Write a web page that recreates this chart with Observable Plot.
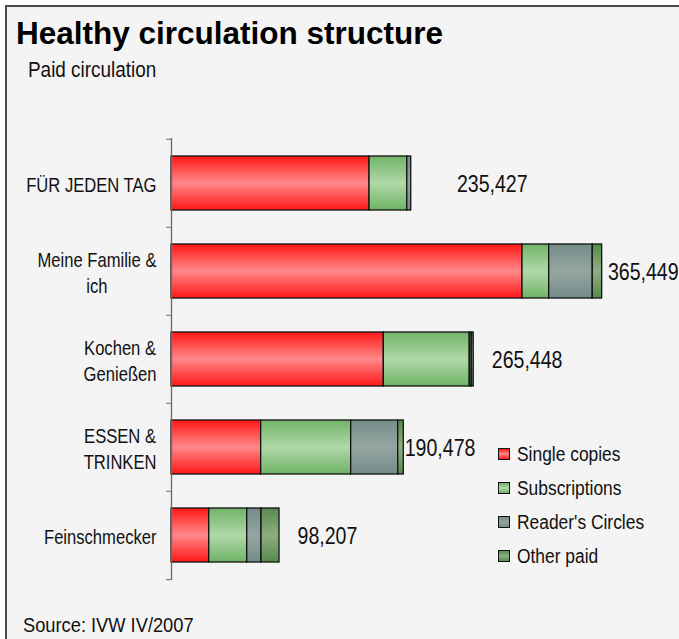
<!DOCTYPE html>
<html>
<head>
<meta charset="utf-8">
<script src="https://cdn.jsdelivr.net/npm/d3@7"></script>
<script src="https://cdn.jsdelivr.net/npm/@observablehq/plot@0.6"></script>
<style>
  html, body { margin: 0; padding: 0; background: #ffffff; overflow: hidden; }
  #page { position: relative; width: 679px; height: 639px; overflow: hidden; }
  #frame { position: absolute; left: 5px; top: 5px; width: 672px; height: 632px;
           border-left: 2px solid #4a4a4a; border-top: 2px solid #4a4a4a; border-right: none; border-bottom: none; background: #f4f4f4; }
  .narrow { font-family: "Liberation Sans", Arial, sans-serif; color: #111; }
  .sq { display: inline-block; transform-origin: 0 50%; white-space: nowrap; }
  #title { position: absolute; left: 16px; top: 18px; font: bold 31.5px/1 "Liberation Sans", Arial, sans-serif; color: #000; white-space: nowrap; }
  #subtitle { position: absolute; left: 28px; top: 59px; font-size: 22px; line-height: 1; }
  #subtitle .sq { transform: scaleX(0.86); }
  #source { position: absolute; left: 23px; top: 614px; font-size: 21px; line-height: 1; }
  #source .sq { transform: scaleX(0.87); }
  #chart { position: absolute; left: 0; top: 100px; }
  .leg { position: absolute; left: 498px; height: 22px; display: flex; align-items: center; white-space: nowrap; font-size: 20px; line-height: 1; }
  .leg .sq { transform: scaleX(0.87); }
  .sw { width: 10px; height: 10px; border: 1px solid #111; margin-right: 7px; flex: none; }
</style>
</head>
<body>
<div id="page">
  <div id="frame"></div>
  <div id="title">Healthy circulation structure</div>
  <div id="subtitle" class="narrow"><span class="sq">Paid circulation</span></div>
  <div id="chart"></div>
  <div id="legend"></div>
  <div id="source" class="narrow"><span class="sq">Source: IVW IV/2007</span></div>
</div>
<script>
// ---- data ----
const categories = ["FÜR JEDEN TAG", "Meine Familie &\nich", "Kochen &\nGenießen", "ESSEN &\nTRINKEN", "Feinschmecker"];
const series = ["Single copies", "Subscriptions", "Reader's Circles", "Other paid"];
const singleCopies   = [170500, 302200, 182800, 77200, 32500];
const subscriptions  = [32500, 23000, 74000, 77500, 32700];
const readersCircles = [3400, 37500, 1700, 40500, 12300];
const otherPaid      = [0, 8100, 1700, 4800, 15500];
const totals = [235427, 365449, 265448, 190478, 98207];

const seriesValues = [singleCopies, subscriptions, readersCircles, otherPaid];
const gradIds = ["g-red", "g-green", "g-gray", "g-dark"];
const gradStops = [
  ["#ff1818", "#ff8888"],
  ["#6fb466", "#b1d8a8"],
  ["#748c88", "#95a6a2"],
  ["#578a4c", "#8dae83"]
];

const table = [];
categories.forEach((c, i) => {
  series.forEach((s, j) => {
    const v = seriesValues[j][i];
    if (v > 0) table.push({cat: c, series: s, value: v});
  });
});
const labels = categories.map((c, i) => ({cat: c, total: totals[i], text: d3.format(",")(totals[i])}));

const W = 679, H = 500, MT = 38, MB = 20, ML = 171, MR = 8;
const step = (H - MT - MB) / categories.length;
const FONT = '"Liberation Sans", Arial, sans-serif';

const chart = Plot.plot({
  width: W, height: H,
  marginTop: MT, marginBottom: MB, marginLeft: ML, marginRight: MR,
  style: {background: "transparent", fontFamily: FONT, color: "#111", overflow: "visible"},
  x: {domain: [0, 430500], axis: null},
  y: {domain: categories, paddingInner: 0.39, paddingOuter: 0.195, axis: null, label: null},
  color: {type: "ordinal", domain: series, range: gradIds.map(id => `url(#${id})`)},
  marks: [
    Plot.barX(table, Plot.stackX({x: "value", y: "cat", fill: "series", stroke: "#111", strokeWidth: 1.3})),
    Plot.ruleX([0], {stroke: "#6a6a6a", strokeWidth: 1.3}),
    Plot.axisY({tickSize: 5, tickFormat: () => "", label: null, dy: -step / 2, stroke: "#6a6a6a"}),
    Plot.axisY([categories[categories.length - 1]], {tickSize: 5, tickFormat: () => "", label: null, dy: step / 2, stroke: "#6a6a6a"}),
    Plot.text(categories, {y: d => d, frameAnchor: "left", dx: -15, textAnchor: "end", fontSize: 20.5, lineHeight: 1.27, fill: "#111", className: "catlab"}),
    Plot.text(labels, {x: "total", y: "cat", text: "text", textAnchor: "start", dx: 12, dy: 1, fontSize: 24, fill: "#111", className: "vallab"})
  ]
});

// gradients
const ns = "http://www.w3.org/2000/svg";
const defs = document.createElementNS(ns, "defs");
gradIds.forEach((id, k) => {
  const g = document.createElementNS(ns, "linearGradient");
  g.setAttribute("id", id);
  g.setAttribute("x1", "0"); g.setAttribute("y1", "0");
  g.setAttribute("x2", "0"); g.setAttribute("y2", "1");
  [[0, gradStops[k][0]], [0.5, gradStops[k][1]], [1, gradStops[k][0]]].forEach(([o, c]) => {
    const s = document.createElementNS(ns, "stop");
    s.setAttribute("offset", o);
    s.setAttribute("stop-color", c);
    g.appendChild(s);
  });
  defs.appendChild(g);
});
chart.insertBefore(defs, chart.firstChild);
document.getElementById("chart").appendChild(chart);

// condensed look: squeeze text horizontally around its anchor
function squeeze(sel, k) {
  chart.querySelectorAll(sel).forEach(t => {
    const tr = t.getAttribute("transform") || "";
    t.setAttribute("transform", (tr + ` scale(${k},1)`).trim());
  });
}
// center lines of multi-line category labels within their block
chart.querySelectorAll(".catlab text").forEach(t => {
  const spans = t.querySelectorAll("tspan");
  if (spans.length > 1) {
    let maxW = 0;
    spans.forEach(s => { maxW = Math.max(maxW, s.getComputedTextLength()); });
    t.setAttribute("text-anchor", "middle");
    spans.forEach(s => s.setAttribute("x", -maxW / 2));
  }
});
squeeze(".catlab text", 0.81);
squeeze(".vallab text", 0.815);

// legend
const legend = document.getElementById("legend");
series.forEach((s, k) => {
  const row = document.createElement("div");
  row.className = "leg narrow";
  row.style.top = (442.5 + k * 34) + "px";
  const sw = document.createElement("div");
  sw.className = "sw";
  sw.style.background = `linear-gradient(${gradStops[k][0]}, ${gradStops[k][1]}, ${gradStops[k][0]})`;
  const tx = document.createElement("span");
  tx.className = "sq";
  tx.textContent = s;
  row.appendChild(sw); row.appendChild(tx);
  legend.appendChild(row);
});
</script>
</body>
</html>
